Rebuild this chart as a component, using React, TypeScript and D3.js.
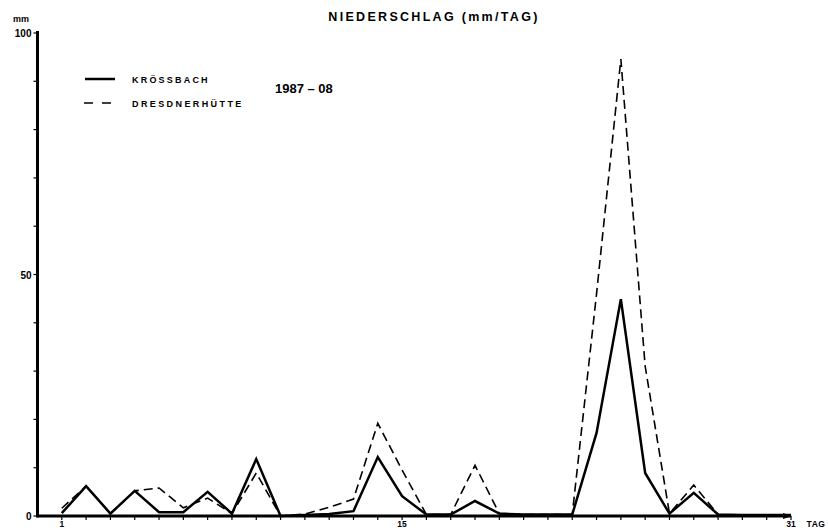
import React from "react";
import * as d3 from "d3";

const days = d3.range(1, 32);
const krossbach = [0.6, 6.2, 0.5, 5.2, 0.8, 0.8, 5.0, 0.5, 11.8, 0.0, 0.2, 0.4, 1.0, 12.2, 4.1, 0.3, 0.3, 3.1, 0.5, 0.3, 0.3, 0.3, 17.2, 44.9, 8.9, 0.5, 4.8, 0.3, 0.2, 0.2, 0.2];
const dresdner = [1.6, 6.2, 0.5, 5.2, 5.8, 1.7, 3.7, 0.5, 8.9, 0.0, 0.4, 1.8, 3.5, 19.2, 9.5, 0.3, 0.3, 10.5, 0.5, 0.3, 0.3, 0.3, 46.0, 94.6, 31.0, 0.5, 6.4, 0.3, 0.2, 0.2, 0.2];
const yTickValues = [0, 10, 20, 30, 40, 50, 60, 70, 80, 90, 100];
const yLabels = [0, 50, 100];
const xLabels = [1, 15, 31];
const seriesNames = ["KRÖSSBACH", "DRESDNERHÜTTE"];

const W = 828;
const H = 528;
const FONT = "'Liberation Sans', Arial, sans-serif";

export default function App() {
  const x = d3.scaleLinear().domain([0, 31]).range([37.5, 791]);
  const y = d3.scaleLinear().domain([0, 100]).range([516, 33]);
  const line = d3
    .line<number>()
    .x((_, i) => x(days[i]))
    .y((d) => y(d));

  return (
    <svg
      width={W}
      height={H}
      style={{ position: "absolute", left: 0, top: 0, background: "#fff", display: "block" }}
    >
      <rect x={0} y={0} width={W} height={H} fill="#fff" />
      {/* title */}
      <text x={434} y={21} textAnchor="middle" fontFamily={FONT} fontWeight="bold" fontSize={12.5} letterSpacing={2.3} fill="#000">
        NIEDERSCHLAG (mm/TAG)
      </text>
      {/* y axis unit */}
      <text x={21} y={22} textAnchor="middle" fontFamily={FONT} fontWeight="bold" fontSize={9} fill="#000">mm</text>

      {/* data lines */}
      <path d={line(dresdner) || ""} fill="none" stroke="#000" strokeWidth={1.6} strokeDasharray="9,5" strokeLinejoin="miter" />
      <path d={line(krossbach) || ""} fill="none" stroke="#000" strokeWidth={2.5} strokeLinejoin="miter" />

      {/* y axis */}
      <line x1={x(0)} x2={x(0)} y1={y(100) - 2} y2={y(0) + 1.5} stroke="#000" strokeWidth={3} />
      {yTickValues.map((v) => (
        <line key={"yt" + v} x1={x(0) - 4} x2={x(0)} y1={y(v)} y2={y(v)} stroke="#000" strokeWidth={1.2} />
      ))}
      {yLabels.map((v) => (
        <text key={"yl" + v} x={x(0) - 6} y={y(v) + 4} textAnchor="end" fontFamily={FONT} fontWeight="bold" fontSize={10} fill="#000">
          {v}
        </text>
      ))}

      {/* x axis */}
      <line x1={x(0)} x2={x(31)} y1={y(0)} y2={y(0)} stroke="#000" strokeWidth={3} />
      <path d={`M${x(31) - 8},${y(0) - 3} L${x(31) + 1},${y(0)} L${x(31) - 8},${y(0) + 3} Z`} fill="#000" />
      {days.map((d) => (
        <line key={"xt" + d} x1={x(d)} x2={x(d)} y1={y(0)} y2={y(0) + 4} stroke="#000" strokeWidth={1.2} />
      ))}
      {xLabels.map((d) => (
        <text key={"xl" + d} x={x(d)} y={527} textAnchor="middle" fontFamily={FONT} fontWeight="bold" fontSize={8.5} fill="#000">
          {d}
        </text>
      ))}
      <text x={816} y={527} textAnchor="middle" fontFamily={FONT} fontWeight="bold" fontSize={8.5} letterSpacing={0.5} fill="#000">TAG</text>

      {/* legend */}
      <line x1={85} x2={115} y1={79} y2={79} stroke="#000" strokeWidth={2.5} />
      <line x1={84} x2={116} y1={103} y2={103} stroke="#000" strokeWidth={1.6} strokeDasharray="9,9" />
      <text x={132} y={83} fontFamily={FONT} fontWeight="bold" fontSize={9} letterSpacing={2.2} fill="#000">{seriesNames[0]}</text>
      <text x={132} y={107} fontFamily={FONT} fontWeight="bold" fontSize={9} letterSpacing={2.4} fill="#000">{seriesNames[1]}</text>
      <text x={275} y={93} fontFamily={FONT} fontWeight="bold" fontSize={13} fill="#000">1987 – 08</text>
    </svg>
  );
}
